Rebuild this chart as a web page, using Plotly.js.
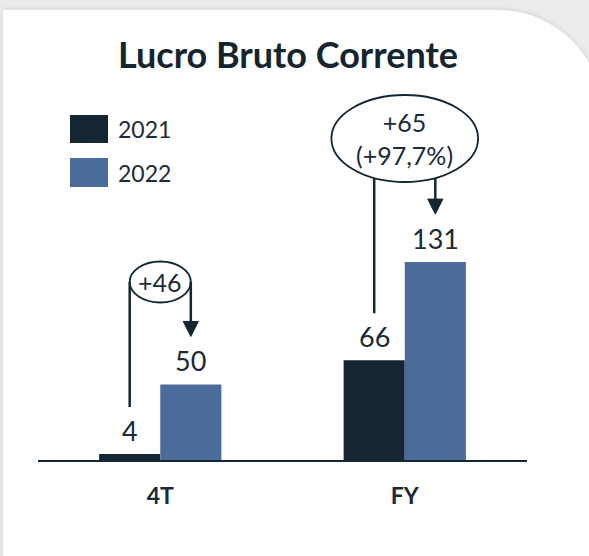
<!DOCTYPE html>
<html>
<head>
<meta charset="utf-8">
<script src="https://cdn.plot.ly/plotly-3.0.1.min.js"></script>
<style>
  html, body { margin:0; padding:0; width:589px; height:556px; overflow:hidden; background:#ececec; }
  #card { position:absolute; left:3px; top:10px; width:600px; height:560px; background:#ffffff;
          border-top-right-radius:105px; box-shadow:0 0 6px rgba(0,0,0,0.12); }
  #chart { position:absolute; left:0; top:0; width:589px; height:556px; }
</style>
</head>
<body>
<div id="card"></div>
<div id="chart"></div>
<script>
const categories = ['4T', 'FY'];
const seriesNames = ['2021', '2022'];
const values2021 = [4, 66];
const values2022 = [50, 131];
const deltaLabels = ['+46', '+65<br>(+97,7%)'];

const DARK = '#142632';
const BLUE = '#4b6b9b';
const TEXT = '#1a2a36';
const FONT = 'Lato, "Noto Sans", sans-serif';

// layout geometry
const W = 589, H = 556;
const M = {l: 38, r: 62, t: 40, b: 96};
const YMAX = 278;
const plotH = H - M.t - M.b;
const pxPerUnit = plotH / YMAX;
const u = px => px / pxPerUnit;         // pixels -> y data units
const BAR_HALF = 0.125;                  // group offset of each bar centre

// bubble styling (centre height above axis, radii)
const bubbleCy = [u(178), u(321.5)];
const bubbleRy = [u(20.5), u(43.5)];
const bubbleRx = [0.125, 0.30];
const LINE_GAP = u(47);
const ARROW_GAP = u(48);
const HEAD_H = u(15), HEAD_HW = 0.031;

const traces = [
  {type:'bar', name: seriesNames[0], x: categories, y: values2021, marker:{color: DARK}, hoverinfo:'none'},
  {type:'bar', name: seriesNames[1], x: categories, y: values2022, marker:{color: BLUE}, hoverinfo:'none'}
];

const shapes = [];
const annotations = [];

categories.forEach((c, i) => {
  // value labels
  annotations.push({x: i - BAR_HALF, y: values2021[i], text: String(values2021[i]), showarrow:false,
    yanchor:'bottom', yshift: 5, font:{family: FONT, size: 27, color: TEXT}});
  annotations.push({x: i + BAR_HALF, y: values2022[i], text: String(values2022[i]), showarrow:false,
    yanchor:'bottom', yshift: 5, font:{family: FONT, size: 27, color: TEXT}});

  const cx = i, cy = bubbleCy[i], rx = bubbleRx[i], ry = bubbleRy[i];
  const edge = x => { const d = (x - cx) / rx; return Math.abs(d) >= 1 ? cy : cy - ry * Math.sqrt(1 - d*d); };

  // ellipse
  shapes.push({type:'circle', xref:'x', yref:'y', x0: cx - rx, x1: cx + rx, y0: cy - ry, y1: cy + ry,
    line:{color: DARK, width: 1.8}, fillcolor:'rgba(0,0,0,0)'});
  annotations.push({x: cx, y: cy, text: deltaLabels[i], showarrow:false,
    font:{family: FONT, size: 25, color: TEXT}});

  // left connector from ellipse to above 2021 bar
  const xl = i - BAR_HALF;
  shapes.push({type:'line', xref:'x', yref:'y', x0: xl, x1: xl, y0: edge(xl), y1: values2021[i] + LINE_GAP,
    line:{color: DARK, width: 2.5}});

  // right arrow from ellipse down to 2022 bar
  const xr = i + BAR_HALF;
  const tip = values2022[i] + ARROW_GAP;
  shapes.push({type:'line', xref:'x', yref:'y', x0: xr, x1: xr, y0: edge(xr), y1: tip + HEAD_H,
    line:{color: DARK, width: 2.5}});
  shapes.push({type:'path', xref:'x', yref:'y',
    path: `M ${xr - HEAD_HW} ${tip + HEAD_H} L ${xr + HEAD_HW} ${tip + HEAD_H} L ${xr} ${tip} Z`,
    fillcolor: DARK, line:{color: DARK, width: 1}});
});

// custom legend
const plotW = W - M.l - M.r;
const px2paperX = px => (px - M.l) / plotW;
const px2paperY = py => (H - M.b - py) / plotH;
const legendRows = [{top:115, bottom:143, color: DARK}, {top:158, bottom:187, color: BLUE}];
legendRows.forEach((r, k) => {
  shapes.push({type:'rect', xref:'paper', yref:'paper', x0: px2paperX(70), x1: px2paperX(108),
    y0: px2paperY(r.bottom), y1: px2paperY(r.top), fillcolor: r.color, line:{width:0}});
  annotations.push({xref:'paper', yref:'paper', x: px2paperX(116), y: px2paperY((r.top + r.bottom)/2),
    xanchor:'left', yanchor:'middle', text: seriesNames[k], showarrow:false,
    font:{family: FONT, size: 23, color: TEXT}});
});

const layout = {
  width: W, height: H,
  margin: M,
  paper_bgcolor:'rgba(0,0,0,0)', plot_bgcolor:'rgba(0,0,0,0)',
  showlegend:false,
  barmode:'group', bargap:0.5, bargroupgap:0,
  title:{text:'Lucro Bruto Corrente', x: 288/W, xref:'container', xanchor:'center',
    y: 1 - 55/H, yref:'container', yanchor:'middle',
    font:{family: FONT, size: 36, color: '#14252f', weight: 700}},
  xaxis:{type:'category', range:[-0.5, 1.5], showline:true, linecolor: DARK, linewidth: 2,
    showgrid:false, zeroline:false, ticks:'outside', ticklen: 14, tickcolor:'rgba(0,0,0,0)',
    tickfont:{family: FONT, size: 23, color: TEXT, weight: 700}, fixedrange:true},
  yaxis:{range:[0, YMAX], visible:false, fixedrange:true},
  shapes: shapes,
  annotations: annotations
};

Plotly.newPlot('chart', traces, layout, {staticPlot:true, displayModeBar:false});
</script>
</body>
</html>
